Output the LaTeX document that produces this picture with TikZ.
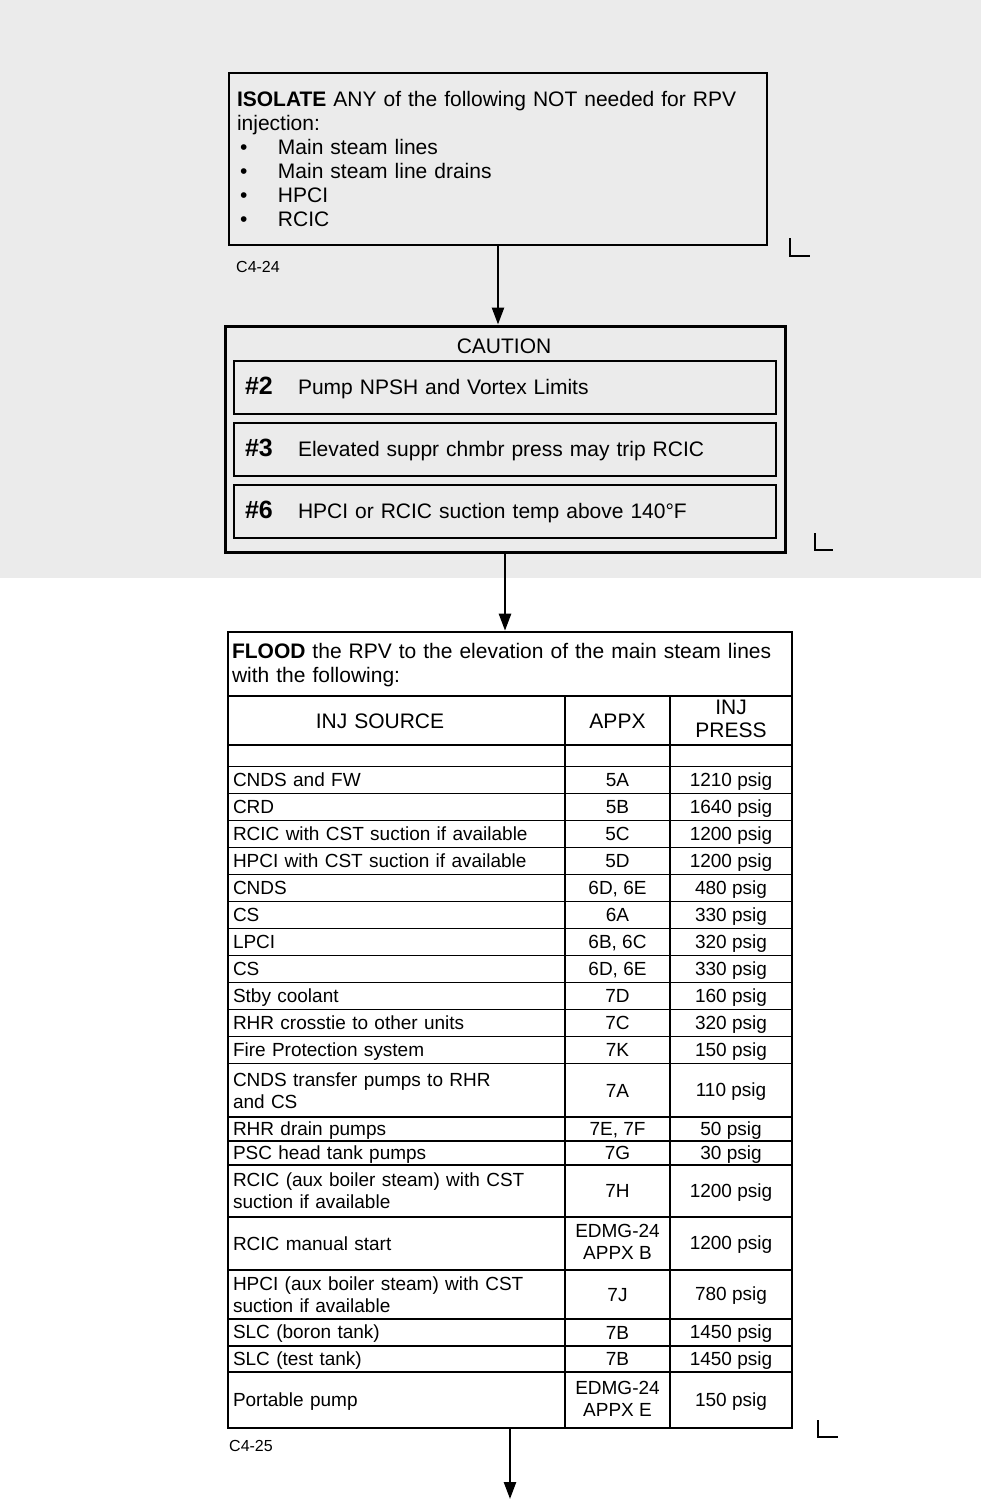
\documentclass[tikz,border=0pt]{standalone}
\usepackage{fontspec}
\setmainfont{Liberation Sans}
\usetikzlibrary{arrows.meta}
\newcommand{\topstrut}{\rule{0pt}{0.84em}}
\newcommand{\botstrut}{\rule[-0.125em]{0pt}{0.125em}}
\newcommand{\isoitem}[1]{\makebox[41pt][l]{\hspace{3pt}\textbullet}#1}
\newcommand{\cauno}[1]{\makebox[53pt][l]{\fontsize{25}{24}\selectfont\bfseries #1}}
\begin{document}
\begin{tikzpicture}[x=1pt, y=-1pt, >={Triangle[length=17pt,width=12pt]},
  strutted/.style={execute at begin node=\topstrut, execute at end node=\botstrut},
  box/.style={draw, line width=2.6pt, align=left, font=\fontsize{21}{24}\selectfont, strutted},
  caucell/.style={draw, line width=2.4pt, minimum width=542pt, minimum height=53pt, text width=520pt, inner xsep=11pt, align=left, font=\fontsize{21}{24}\selectfont, strutted},
  cell/.style={draw, line width=1.2pt, inner xsep=5pt, inner ysep=1pt, font=\fontsize{19}{22}\selectfont, strutted},
  hdr/.style={font=\fontsize{21}{23}\selectfont},
  srccell/.style={cell, minimum width=337pt, text width=327pt, align=left},
  appxcell/.style={cell, minimum width=105pt, align=center},
  presscell/.style={cell, minimum width=122pt, align=center},
  tag/.style={font=\fontsize{16}{18}\selectfont, anchor=west, inner sep=0pt},
  lmark/.style={line width=2.5pt},
  flow/.style={->, line width=2.5pt}]
\useasboundingbox (0,0) rectangle (981,1500);
\fill[white] (0,0) rectangle (981,1500);
\fill[black!8] (0,0) rectangle (981,578);

% isolate step
\node[box, minimum width=538pt, minimum height=172pt, text width=522pt, inner xsep=8pt, inner ysep=0pt] (isolate) at (498,159)
  {\textbf{ISOLATE} ANY of the following NOT needed for RPV\\injection:\\\isoitem{Main steam lines}\\\isoitem{Main steam line drains}\\\isoitem{HPCI}\\\isoitem{RCIC}};
\node[tag] (isolatetag) at (236,267) {C4-24};
\draw[lmark] (790,238) |- (810,256);

% cautions
\node[draw, line width=3pt, minimum width=560pt, minimum height=226pt, inner sep=0pt] (caution) at (505,439) {};
\node[font=\fontsize{21}{24}\selectfont, strutted] (cautitle) at (504,346) {CAUTION};
\node[caucell] (cau2) at (505,387.5) {\cauno{\#2}Pump NPSH and Vortex Limits};
\node[caucell] (cau3) at (505,449.5) {\cauno{\#3}Elevated suppr chmbr press may trip RCIC};
\node[caucell] (cau6) at (505,511.5) {\cauno{\#6}HPCI or RCIC suction temp above 140°F};
\draw[lmark] (815,533) |- (833,550);

% flood step
\node[cell, font=\fontsize{21}{24}\selectfont, minimum width=564pt, minimum height=64pt, text width=556pt, inner xsep=4pt, align=left] (floodtitle) at (510,664)
  {\textbf{FLOOD} the RPV to the elevation of the main steam lines\\with the following:};
\node[srccell, hdr, align=center, minimum height=49pt] (srchead) at (396.5,720.5) {INJ SOURCE\hspace*{33pt}};
\node[appxcell, hdr, minimum height=49pt] (appxhead) at (617.5,720.5) {APPX};
\node[presscell, hdr, minimum height=49pt] (presshead) at (731,720.5) {INJ\\PRESS};
\node[srccell, minimum height=21.5pt] (src0) at (396.5,755.75) {};
\node[appxcell, minimum height=21.5pt] (appx0) at (617.5,755.75) {};
\node[presscell, minimum height=21.5pt] (press0) at (731,755.75) {};
\node[srccell, minimum height=27pt] (src1) at (396.5,780) {CNDS and FW};
\node[appxcell, minimum height=27pt] (appx1) at (617.5,780) {5A};
\node[presscell, minimum height=27pt] (press1) at (731,780) {1210 psig};
\node[srccell, minimum height=27pt] (src2) at (396.5,807) {CRD};
\node[appxcell, minimum height=27pt] (appx2) at (617.5,807) {5B};
\node[presscell, minimum height=27pt] (press2) at (731,807) {1640 psig};
\node[srccell, minimum height=27pt] (src3) at (396.5,834) {RCIC with CST suction if available};
\node[appxcell, minimum height=27pt] (appx3) at (617.5,834) {5C};
\node[presscell, minimum height=27pt] (press3) at (731,834) {1200 psig};
\node[srccell, minimum height=27pt] (src4) at (396.5,861) {HPCI with CST suction if available};
\node[appxcell, minimum height=27pt] (appx4) at (617.5,861) {5D};
\node[presscell, minimum height=27pt] (press4) at (731,861) {1200 psig};
\node[srccell, minimum height=27pt] (src5) at (396.5,888) {CNDS};
\node[appxcell, minimum height=27pt] (appx5) at (617.5,888) {6D, 6E};
\node[presscell, minimum height=27pt] (press5) at (731,888) {480 psig};
\node[srccell, minimum height=27pt] (src6) at (396.5,915) {CS};
\node[appxcell, minimum height=27pt] (appx6) at (617.5,915) {6A};
\node[presscell, minimum height=27pt] (press6) at (731,915) {330 psig};
\node[srccell, minimum height=27pt] (src7) at (396.5,942) {LPCI};
\node[appxcell, minimum height=27pt] (appx7) at (617.5,942) {6B, 6C};
\node[presscell, minimum height=27pt] (press7) at (731,942) {320 psig};
\node[srccell, minimum height=27pt] (src8) at (396.5,969) {CS};
\node[appxcell, minimum height=27pt] (appx8) at (617.5,969) {6D, 6E};
\node[presscell, minimum height=27pt] (press8) at (731,969) {330 psig};
\node[srccell, minimum height=27pt] (src9) at (396.5,996) {Stby coolant};
\node[appxcell, minimum height=27pt] (appx9) at (617.5,996) {7D};
\node[presscell, minimum height=27pt] (press9) at (731,996) {160 psig};
\node[srccell, minimum height=27pt] (src10) at (396.5,1023) {RHR crosstie to other units};
\node[appxcell, minimum height=27pt] (appx10) at (617.5,1023) {7C};
\node[presscell, minimum height=27pt] (press10) at (731,1023) {320 psig};
\node[srccell, minimum height=27pt] (src11) at (396.5,1050) {Fire Protection system};
\node[appxcell, minimum height=27pt] (appx11) at (617.5,1050) {7K};
\node[presscell, minimum height=27pt] (press11) at (731,1050) {150 psig};
\node[srccell, minimum height=53.5pt] (src12) at (396.5,1090.25) {CNDS transfer pumps to RHR\\and CS};
\node[appxcell, minimum height=53.5pt] (appx12) at (617.5,1090.25) {7A};
\node[presscell, minimum height=53.5pt] (press12) at (731,1090.25) {110 psig};
\node[srccell, minimum height=24pt] (src13) at (396.5,1129) {RHR drain pumps};
\node[appxcell, minimum height=24pt] (appx13) at (617.5,1129) {7E, 7F};
\node[presscell, minimum height=24pt] (press13) at (731,1129) {50 psig};
\node[srccell, minimum height=24pt] (src14) at (396.5,1153) {PSC head tank pumps};
\node[appxcell, minimum height=24pt] (appx14) at (617.5,1153) {7G};
\node[presscell, minimum height=24pt] (press14) at (731,1153) {30 psig};
\node[srccell, minimum height=52pt] (src15) at (396.5,1191) {RCIC (aux boiler steam) with CST\\suction if available};
\node[appxcell, minimum height=52pt] (appx15) at (617.5,1191) {7H};
\node[presscell, minimum height=52pt] (press15) at (731,1191) {1200 psig};
\node[srccell, minimum height=53pt] (src16) at (396.5,1243.5) {RCIC manual start};
\node[appxcell, minimum height=53pt] (appx16) at (617.5,1243.5) {EDMG-24\\APPX B};
\node[presscell, minimum height=53pt] (press16) at (731,1243.5) {1200 psig};
\node[srccell, minimum height=49pt] (src17) at (396.5,1294.5) {HPCI (aux boiler steam) with CST\\suction if available};
\node[appxcell, minimum height=49pt] (appx17) at (617.5,1294.5) {7J};
\node[presscell, minimum height=49pt] (press17) at (731,1294.5) {780 psig};
\node[srccell, minimum height=27pt] (src18) at (396.5,1332.5) {SLC (boron tank)};
\node[appxcell, minimum height=27pt] (appx18) at (617.5,1332.5) {7B};
\node[presscell, minimum height=27pt] (press18) at (731,1332.5) {1450 psig};
\node[srccell, minimum height=26pt] (src19) at (396.5,1359) {SLC (test tank)};
\node[appxcell, minimum height=26pt] (appx19) at (617.5,1359) {7B};
\node[presscell, minimum height=26pt] (press19) at (731,1359) {1450 psig};
\node[srccell, minimum height=56pt] (src20) at (396.5,1400) {Portable pump};
\node[appxcell, minimum height=56pt] (appx20) at (617.5,1400) {EDMG-24\\APPX E};
\node[presscell, minimum height=56pt] (press20) at (731,1400) {150 psig};
\node[draw, line width=2.6pt, minimum width=564pt, minimum height=796pt, inner sep=0pt] (flood) at (510,1030) {};
\node[tag] (floodtag) at (229,1446) {C4-25};
\draw[lmark] (818,1420) |- (838,1437);
\coordinate (exit) at (510,1499);

\draw[flow] (isolate.south) -- (isolate.south |- caution.north);
\draw[flow] (caution.south) -- (caution.south |- flood.north);
\draw[flow] (flood.south) -- (exit);
\end{tikzpicture}
\end{document}
